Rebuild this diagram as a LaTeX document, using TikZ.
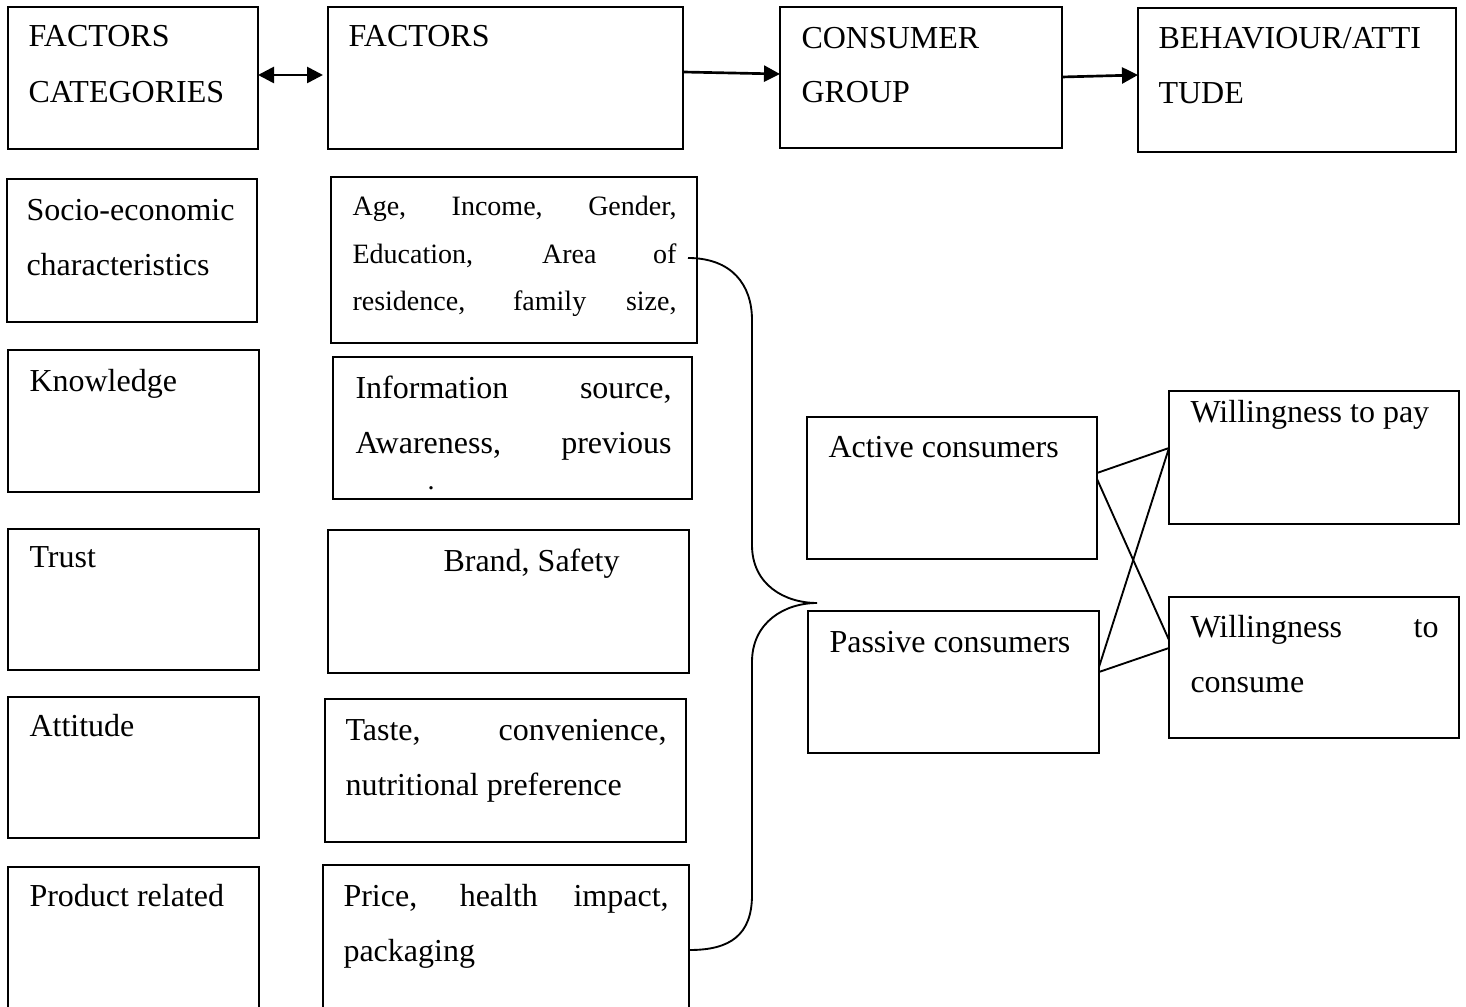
\documentclass[tikz,border=0pt]{standalone}
\usepackage{fontspec}
\setmainfont{Liberation Serif}
\usetikzlibrary{calc,arrows.meta}
\newcommand\mkbox[5]{\node[boxst,minimum width={(#4-#2)*0.375pt},minimum height={(#5-#3)*0.375pt}] (#1) at (#2,#3) {};}
\begin{document}
\begin{tikzpicture}[x=0.375pt,y=-0.375pt,
  boxst/.style={draw,line width=0.7pt,inner sep=0pt,outer sep=0pt,anchor=north west},
  txt/.style={anchor=base west,inner sep=0pt,font=\fontsize{12}{14}\selectfont},
  stxt/.style={anchor=base west,inner sep=0pt,font=\fontsize{10.5}{12}\selectfont},
  arr/.style={line width=1pt,-{Triangle[length=6pt,width=6pt]}},
  link/.style={line width=0.7pt}]
\useasboundingbox (0,0) rectangle (1466,1007);
\clip (0,0) rectangle (1466,1007);
% boxes
\mkbox{fc}{8}{7}{258}{149}
\mkbox{fa}{328}{7}{683}{149}
\mkbox{cg}{780}{7}{1062}{148}
\mkbox{ba}{1138}{8}{1456}{152}
\mkbox{se}{7}{179}{257}{322}
\mkbox{kn}{8}{350}{259}{492}
\mkbox{tr}{8}{529}{259}{670}
\mkbox{at}{8}{697}{259}{838}
\mkbox{pr}{8}{867}{259}{1012}
\mkbox{age}{331}{177}{697}{343}
\mkbox{inf}{333}{357}{692}{499}
\mkbox{br}{328}{530}{689}{673}
\mkbox{ta}{325}{699}{686}{842}
\mkbox{pri}{323}{865}{689}{1012}
\mkbox{ac}{807}{417}{1097}{559}
\mkbox{pa}{808}{611}{1099}{753}
\mkbox{wp}{1169}{391}{1459}{524}
\mkbox{wc}{1169}{597}{1459}{738}
% texts
\node[txt] (t1) at (28,47) {FACTORS};
\node[txt] (t2) at (28,103) {CATEGORIES};
\node[txt] (t3) at (348,47) {FACTORS};
\node[txt] (t4) at (801,49) {CONSUMER};
\node[txt] (t5) at (801,103) {GROUP};
\node[txt] (t6) at (1158,49) {BEHAVIOUR/ATTI};
\node[txt] (t7) at (1158,104) {TUDE};
\node[txt] (t8) at (26,221) {Socio-economic};
\node[txt] (t9) at (26,276) {characteristics};
\node[txt] (t10) at (29,392) {Knowledge};
\node[txt] (t11) at (29,568) {Trust};
\node[txt] (t12) at (29,737) {Attitude};
\node[txt] (t13) at (29,907) {Product related};
\node[stxt] (t14) at (352,216) {\makebox[121.5pt][s]{Age, Income, Gender,}};
\node[stxt] (t15) at (352,264) {\makebox[121.5pt][s]{Education, Area of}};
\node[stxt] (t16) at (352,311) {\makebox[121.5pt][s]{residence, family size,}};
\node[txt] (t17) at (355,399) {\makebox[118.5pt][s]{Information source,}};
\node[txt] (t18) at (355,454) {\makebox[118.5pt][s]{Awareness, previous}};
\node[stxt] (t19) at (427,490) {.};
\node[txt] (t20) at (443,572) {Brand, Safety};
\node[txt] (t21) at (345,741) {\makebox[120.4pt][s]{Taste, convenience,}};
\node[txt] (t22) at (345,796) {nutritional preference};
\node[txt] (t23) at (343,907) {\makebox[121.9pt][s]{Price, health impact,}};
\node[txt] (t24) at (343,962) {packaging};
\node[txt] (t25) at (828,458) {Active consumers};
\node[txt] (t26) at (829,653) {Passive consumers};
\node[txt] (t27) at (1190,423) {Willingness to pay};
\node[txt] (t28) at (1190,638) {\makebox[93pt][s]{Willingness to}};
\node[txt] (t29) at (1190,693) {consume};
% arrows
\draw[line width=1pt,{Triangle[length=6pt,width=6pt]}-{Triangle[length=6pt,width=6pt]}] ($(fc.east)+(0,-3)$) -- ($(fa.west)+(-5,-3)$);
\draw[arr] ($(fa.east)+(0,-6)$) -- ($(cg.west)+(0,-3.5)$);
\draw[arr] ($(cg.east)+(0,-0.5)$) -- ($(ba.west)+(0,-5)$);
% cross links
\draw[link] ($(ac.east)+(0,-15)$) -- ($(wp.west)+(0,-9.5)$);
\draw[link] ($(ac.east)+(0,-9)$) -- ($(wc.west)+(0,-27.5)$);
\draw[link] ($(pa.east)+(0,-10)$) -- ($(wc.west)+(0,-19.5)$);
\draw[link] ($(pa.east)+(0,-15)$) -- ($(wp.west)+(0,-9.5)$);
% brace
\coordinate (bracetip) at (817,603);
\draw[link] ($(age.east)+(-9,-2)$) .. controls (732,258) and (752,285) .. (752,320)
  -- (752,545) .. controls (752,585) and (785,603) .. (bracetip)
  .. controls (785,603) and (752,622) .. (752,662)
  -- (752,895) .. controls (752,935) and (730,950) .. ($(pri.east)+(1,11.5)$);
\end{tikzpicture}
\end{document}
